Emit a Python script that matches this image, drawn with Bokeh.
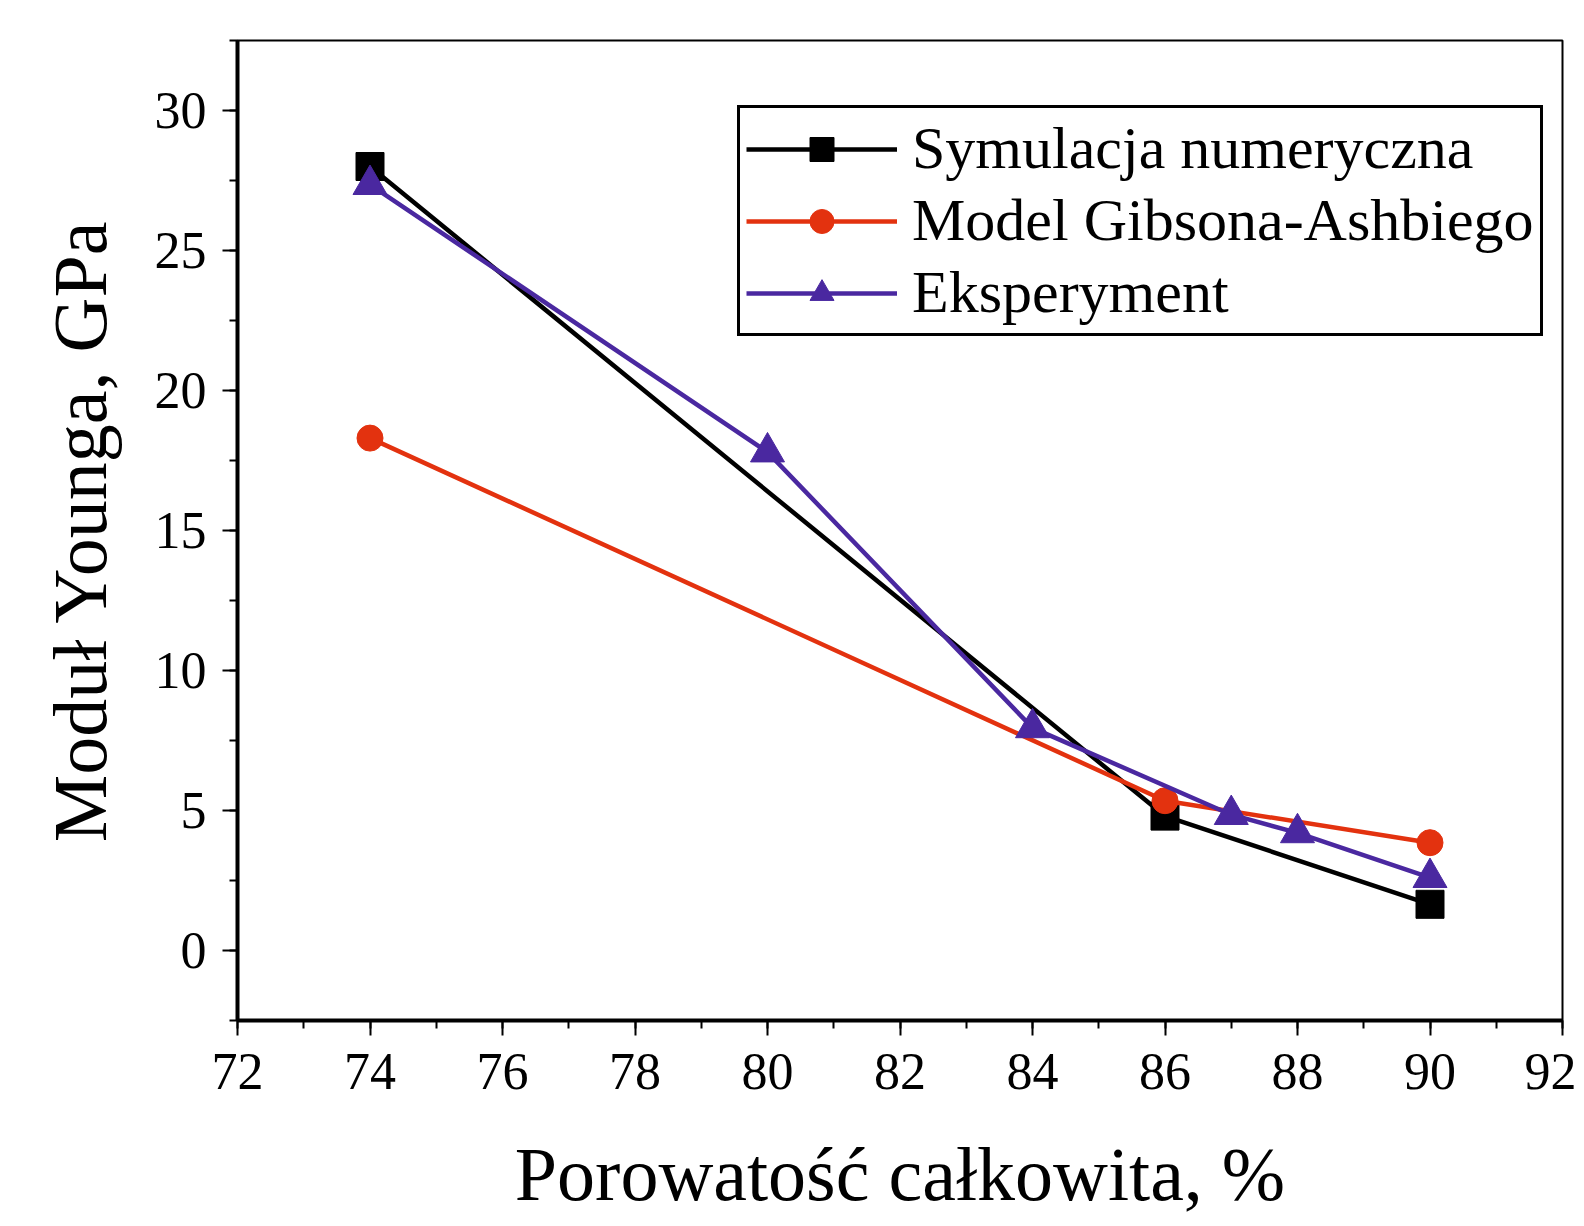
from bokeh.plotting import figure
from bokeh.models import Range1d, Legend, LegendItem, FixedTicker
from bokeh.embed import file_html
from bokeh.resources import INLINE

# Data
x_sym = [74, 86, 90]
y_sym = [28.0, 4.8, 1.65]
x_gib = [74, 86, 90]
y_gib = [18.3, 5.35, 3.85]
x_exp = [74, 80, 84, 87, 88, 90]
y_exp = [27.35, 17.8, 7.95, 4.85, 4.2, 2.6]

x_ticks = [72, 74, 76, 78, 80, 82, 84, 86, 88, 90, 92]
y_ticks = [0, 5, 10, 15, 20, 25, 30]

labels = ["Symulacja numeryczna", "Model Gibsona-Ashbiego", "Eksperyment"]
colors = ["#000000", "#E3320F", "#4A28A0"]

FONT = "Liberation Serif"

p = figure(width=1576, height=1218, output_backend="svg", toolbar_location=None,
           x_range=Range1d(72, 92), y_range=Range1d(-2.5, 32.5),
           min_border_left=237, min_border_right=14, min_border_top=40, min_border_bottom=198)
p.grid.visible = False
p.outline_line_color = "black"
p.outline_line_width = 2
p.background_fill_color = "white"
p.border_fill_color = "white"

for ax in (p.xaxis[0], p.yaxis[0]):
    ax.axis_line_width = 4
    ax.axis_line_color = "black"
    ax.major_tick_line_width = 2
    ax.minor_tick_line_width = 2
    ax.major_tick_out = 15
    ax.major_tick_in = 0
    ax.minor_tick_out = 8
    ax.minor_tick_in = 0
    ax.major_label_text_font = FONT
    ax.major_label_text_font_size = "52px"
    ax.major_label_text_color = "black"
    ax.axis_label_text_font = FONT
    ax.axis_label_text_font_size = "76px"
    ax.axis_label_text_font_style = "normal"
    ax.axis_label_text_color = "black"

p.xaxis.ticker = FixedTicker(ticks=x_ticks, minor_ticks=list(range(72, 93)))
p.yaxis.ticker = FixedTicker(ticks=y_ticks, minor_ticks=[-2.5 + 2.5 * i for i in range(15)])
p.xaxis.major_label_standoff = 18
p.yaxis.major_label_standoff = 16
p.xaxis.axis_label = "Porowatość całkowita, %"
p.yaxis.axis_label = "Moduł Younga, GPa"
p.xaxis.axis_label_standoff = 40
p.yaxis.axis_label_standoff = 30

l1 = p.line(x_sym, y_sym, line_color=colors[0], line_width=4.5)
m1 = p.scatter(x_sym, y_sym, marker="square", size=28, fill_color=colors[0], line_color=colors[0])
l2 = p.line(x_gib, y_gib, line_color=colors[1], line_width=4.5)
m2 = p.scatter(x_gib, y_gib, marker="circle", size=26, fill_color=colors[1], line_color=colors[1])
l3 = p.line(x_exp, y_exp, line_color=colors[2], line_width=4.5)
m3 = p.scatter(x_exp, y_exp, marker="triangle", size=34, fill_color=colors[2], line_color=colors[2])

legend = Legend(items=[LegendItem(label=labels[0], renderers=[l1, m1]),
                       LegendItem(label=labels[1], renderers=[l2, m2]),
                       LegendItem(label=labels[2], renderers=[l3, m3])],
                location=(500, 684))
legend.label_text_font = FONT
legend.label_text_font_size = "60px"
legend.label_text_color = "black"
legend.glyph_width = 151
legend.glyph_height = 60
legend.label_height = 60
legend.label_standoff = 15
legend.spacing = 3
legend.padding = 6
legend.margin = 0
legend.border_line_color = "black"
legend.border_line_alpha = 1.0
legend.border_line_width = 3
legend.background_fill_alpha = 1.0
p.add_layout(legend, "center")

open("out.html", "w").write(file_html(p, INLINE))
